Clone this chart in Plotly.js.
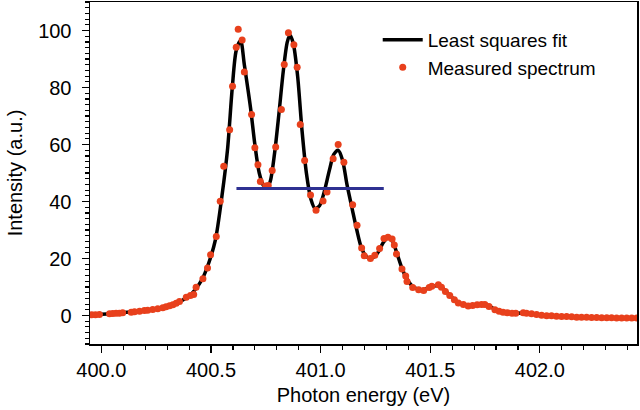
<!DOCTYPE html>
<html>
<head>
<meta charset="utf-8">
<script src="https://cdn.plot.ly/plotly-3.0.1.min.js"></script>
<style>html,body{margin:0;padding:0;background:#fff;}#chart{width:640px;height:410px;}</style>
</head>
<body>
<div id="chart"></div>
<script>
// Measured spectrum (photon energy in eV, intensity in a.u.)
const measuredX = [399.956,399.973,399.991,400.037,400.052,400.067,400.082,400.097,400.136,400.151,400.174,400.196,400.211,400.234,400.257,400.280,400.295,400.311,400.326,400.341,400.356,400.387,400.406,400.421,400.432,400.463,400.484,400.498,400.524,400.542,400.558,400.585,400.598,400.615,400.624,400.642,400.652,400.685,400.700,400.714,400.725,400.749,400.761,400.779,400.795,400.821,400.834,400.853,400.878,400.893,400.907,400.927,400.954,400.979,401.011,401.029,401.057,401.080,401.106,401.146,401.166,401.187,401.199,401.227,401.247,401.269,401.289,401.307,401.326,401.336,401.346,401.371,401.388,401.394,401.420,401.447,401.470,401.495,401.507,401.537,401.551,401.569,401.589,401.610,401.628,401.651,401.673,401.693,401.714,401.734,401.749,401.768,401.795,401.814,401.832,401.851,401.873,401.890,401.924,401.939,401.962,401.985,402.008,402.031,402.053,402.076,402.099,402.122,402.145,402.168,402.190,402.213,402.236,402.259,402.282,402.305,402.327,402.350,402.373,402.396,402.419,402.442];
const measuredY = [0.25,0.25,0.35,0.6,0.7,0.8,0.8,0.95,1.15,1.3,1.5,1.75,1.8,2.1,2.35,2.7,3.05,3.4,3.75,4.3,4.9,6.4,7.0,7.4,9.9,12.9,16.7,21.3,27.7,40.1,52.4,65.2,80.4,94.1,100.4,96.7,85.4,70.5,58.9,52.9,47.0,45.4,45.6,50.9,59.1,72.3,88.1,99.2,95.0,87.1,67.0,54.4,42.3,36.9,40.2,43.3,55.0,60.0,53.8,38.9,31.7,23.7,21.0,20.0,21.1,23.5,27.0,27.5,26.8,24.7,21.6,16.3,13.9,11.9,9.8,9.0,8.8,9.8,10.3,10.8,9.9,8.4,7.0,5.5,4.4,3.9,3.3,3.5,3.75,3.9,3.9,3.2,2.0,1.5,1.15,0.95,0.8,0.8,0.95,0.8,0.6,0.35,0.1,-0.1,-0.1,-0.25,-0.35,-0.35,-0.45,-0.6,-0.6,-0.6,-0.7,-0.7,-0.8,-0.8,-0.8,-0.9,-0.9,-0.9,-0.9,-0.9];

// Least squares fit curve
const fitX = [399.95,400.0,400.1,400.2,400.3,400.35,400.4,400.43,400.46,400.49,400.52,400.55,400.575,400.597,400.615,400.635,400.652,400.68,400.70,400.72,400.74,400.755,400.77,400.79,400.81,400.83,400.848,400.86,400.875,400.895,400.915,400.935,400.955,400.975,400.995,401.015,401.04,401.06,401.08,401.10,401.12,401.145,401.165,401.185,401.205,401.225,401.245,401.265,401.285,401.305,401.325,401.345,401.37,401.39,401.42,401.45,401.48,401.51,401.54,401.565,401.59,401.62,401.65,401.69,401.73,401.76,401.8,401.85,401.9,401.95,402.0,402.1,402.2,402.3,402.445];
const fitY = [0.2,0.4,1.0,1.8,3.2,4.6,6.8,9.3,12.8,18.5,26.5,42,58,80,93,96.5,88,73,60,50,45.5,44.8,47,57,71,86,96,98.3,95.5,84,65,50,41,37.5,38.5,43,51,56.5,58,54.5,46,37,30,24,21,20,20.6,22.5,25.5,27.2,26.5,22.5,16.8,13.3,10.2,9.1,9.3,10.2,10.5,9.0,7.0,5.0,3.9,3.5,3.8,3.6,2.0,1.1,0.85,0.6,0.2,-0.3,-0.6,-0.75,-0.9];

// Horizontal marker line
const markerX = [400.616, 401.288];
const markerY = [44.6, 44.6];

const font = "Liberation Sans, Arial, Helvetica, sans-serif";

const traces = [
  {x: fitX, y: fitY, type: 'scatter', mode: 'lines', name: 'Least squares fit',
   line: {color: '#000000', width: 3.5, shape: 'spline', smoothing: 0.8}},
  {x: measuredX, y: measuredY, type: 'scatter', mode: 'markers', name: 'Measured spectrum',
   marker: {color: '#e8401c', size: 7, line: {width: 0}}},
  {x: markerX, y: markerY, type: 'scatter', mode: 'lines', showlegend: false,
   line: {color: '#2e3192', width: 3}}
];

const layout = {
  width: 640, height: 410,
  margin: {l: 90, r: 3, t: 2, b: 66},
  paper_bgcolor: '#ffffff', plot_bgcolor: '#ffffff',
  font: {family: font, size: 20, color: '#000000'},
  showlegend: true,
  legend: {x: 0.526, y: 0.945, xanchor: 'left', yanchor: 'top', bgcolor: 'rgba(0,0,0,0)',
           font: {family: font, size: 19, color: '#000'}, tracegroupgap: 0, itemwidth: 40},
  xaxis: {
    range: [399.948, 402.443], dtick: 0.5, tick0: 400, tickformat: '.1f',
    showgrid: false, zeroline: false, showline: true, linecolor: '#000', linewidth: 1.5, mirror: true,
    ticks: 'outside', ticklen: 7, tickwidth: 1.2, tickcolor: '#000',
    minor: {dtick: 0.1, ticks: 'outside', ticklen: 4, tickwidth: 1.2, tickcolor: '#000', showgrid: false},
    tickfont: {family: font, size: 20},
    title: {text: 'Photon energy (eV)', font: {family: font, size: 20}, standoff: 8}
  },
  yaxis: {
    range: [-10, 110], dtick: 20, tick0: 0,
    showgrid: false, zeroline: false, showline: true, linecolor: '#000', linewidth: 1.5, mirror: true,
    ticks: 'outside', ticklen: 7, tickwidth: 1.2, tickcolor: '#000', ticklabelstandoff: 6,
    minor: {dtick: 2, ticks: 'outside', ticklen: 4, tickwidth: 1.2, tickcolor: '#000', showgrid: false},
    tickfont: {family: font, size: 20},
    title: {text: 'Intensity (a.u.)', font: {family: font, size: 20}, standoff: 10}
  }
};

Plotly.newPlot('chart', traces, layout, {displayModeBar: false, staticPlot: true});
</script>
</body>
</html>
